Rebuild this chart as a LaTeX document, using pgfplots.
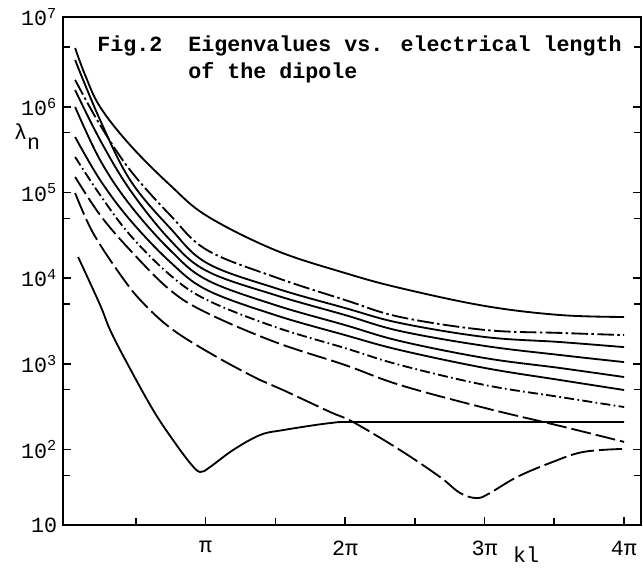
\documentclass[border=0pt]{standalone}
\usepackage{fontspec}
\setmainfont{Liberation Mono}
\usepackage{pgfplots}
\pgfplotsset{compat=1.18}

\begin{document}
\begin{tikzpicture}
\begin{axis}[
  scale only axis,
  width=346.8pt, height=304.8pt,
  xmin=-0.07, xmax=12.95,
  ymode=log, ymin=13.2, ymax=1.117e7,
  axis line style={line width=1pt},
  xtick={3.1416,6.2832,9.4248,12.5664},
  xticklabels={π,2π,3π,4π},
  minor xtick={1.5708,4.7124,7.854,10.9956},
  xtick pos=bottom,
  ytick={100,1000,10000,100000,1000000},
  yticklabels={10\textsuperscript{2},10\textsuperscript{3},10\textsuperscript{4},10\textsuperscript{5},10\textsuperscript{6}},
  minor ytick={50,500,5000,50000,500000,5000000},
  ytick pos=both, yticklabel pos=left,
  tick align=inside,
  major tick length=5pt, minor tick length=4pt,
  every tick/.style={line width=0.9pt,black},
  tick label style={font=\fontsize{13}{15}\selectfont},
  xticklabel style={yshift=-6pt},
  clip mode=individual,
  every axis plot/.append style={black, line width=1.1pt, smooth, tension=0.6, no marks},
]
% top curve
\addplot[solid] coordinates {(0.203,4.85e6) (0.428,2.35e6) (0.766,9.95e5) (1.441,3.58e5) (2.342,1.22e5) (3.175,5.32e4) (4.707,2.13e4) (6.283,1.15e4) (7.522,7.69e3) (9.436,4.74e3) (11.125,3.72e3) (12.57,3.53e3)};
\addplot[dash pattern=on 10pt off 2pt on 1.5pt off 2pt] coordinates {(0.203,2.06e6) (0.766,6.13e5) (1.441,1.83e5) (2.342,5.46e4) (3.175,2.13e4) (4.707,1.03e4) (6.283,5.57e3) (7.522,3.53e3) (9.436,2.49e3) (11.125,2.30e3) (12.57,2.17e3)};
\addplot[solid] coordinates {(0.203,3.52e6) (0.766,7.01e5) (1.441,1.40e5) (2.342,3.85e4) (3.175,1.50e4) (4.707,7.69e3) (6.283,4.49e3) (7.522,3.00e3) (9.436,2.06e3) (11.125,1.80e3) (12.57,1.57e3)};
\addplot[solid] coordinates {(0.203,1.57e6) (0.766,4.10e5) (1.441,1.07e5) (2.342,2.79e4) (3.175,1.21e4) (4.707,6.37e3) (6.283,3.72e3) (7.522,2.42e3) (9.436,1.62e3) (11.125,1.27e3) (12.57,1.05e3)};
\addplot[solid] coordinates {(0.203,9.95e5) (0.766,2.39e5) (1.441,7.15e4) (2.342,2.13e4) (3.175,9.53e3) (4.707,4.87e3) (6.283,2.84e3) (7.522,1.85e3) (9.436,1.17e3) (11.125,896) (12.57,703)};
\addplot[solid] coordinates {(0.203,4.44e5) (0.766,1.40e5) (1.441,4.78e4) (2.342,1.55e4) (3.175,7.28e3) (4.707,3.72e3) (6.283,2.17e3) (7.522,1.45e3) (9.436,896) (11.125,649) (12.57,496)};
\addplot[dash pattern=on 6pt off 2pt on 1pt off 2pt] coordinates {(0.203,2.60e5) (0.766,9.35e4) (1.441,3.19e4) (2.342,1.09e4) (3.175,5.57e3) (4.707,2.70e3) (6.283,1.53e3) (7.522,971) (9.436,567) (11.125,411) (12.57,314)};
\addplot[dash pattern=on 12pt off 3pt] coordinates {(0.203,1.52e5) (0.766,5.46e4) (1.441,2.13e4) (2.342,7.28e3) (3.175,3.93e3) (4.707,1.80e3) (6.283,971) (7.522,567) (9.436,306) (11.125,189) (12.57,123)};
% curve with minimum near 3 pi
\addplot[dash pattern=on 14pt off 3pt] coordinates {(0.203,9.87e4) (0.608,3.37e4) (1.261,1.03e4) (1.734,5.14e3) (2.410,2.49e3) (3.400,1.20e3) (4.369,649) (4.887,496) (5.946,275) (6.463,210) (7.522,98.9) (8.423,47.9) (8.873,31.2) (9.256,27.2) (9.549,31.2) (10.157,47.9) (10.90,69.8) (11.643,93.8) (12.57,102)};
% curve with minimum near pi
\addplot[solid] coordinates {(0.270,1.77e4) (0.766,4.87e3) (0.991,2.49e3) (1.374,1.02e3) (1.959,290) (2.410,129) (2.793,69.8) (3.018,54.8) (3.243,62.7) (3.761,98.9) (4.369,148) (4.887,169) (5.946,204) (6.553,210) (9.436,210) (12.57,210)};

\node[anchor=north west, inner sep=0pt, align=left, font=\bfseries\fontsize{13}{16.2}\selectfont] at (rel axis cs:0.0588,0.9646) {Fig.2~~Eigenvalues vs. electrical length\\\phantom{Fig.2~~}of the dipole};
\node[font=\fontsize{13}{15}\selectfont] at (rel axis cs:-0.062,0.765) {λ\raisebox{-0.9ex}{n}};
\node[font=\fontsize{13}{15}\selectfont, yshift=-18pt] at (axis cs:10.36,13.2) {kl};
\node[font=\fontsize{13}{15}\selectfont, anchor=east] at (rel axis cs:0,0) {10};
\node[font=\fontsize{13}{15}\selectfont, anchor=east] at (rel axis cs:0,1) {10\textsuperscript{7}};
\end{axis}
\pgfresetboundingbox
\path[use as bounding box] ([xshift=-37.8pt,yshift=-26.4pt]current axis.south west) rectangle ([xshift=1.2pt,yshift=10.2pt]current axis.north east);
\end{tikzpicture}
\end{document}
